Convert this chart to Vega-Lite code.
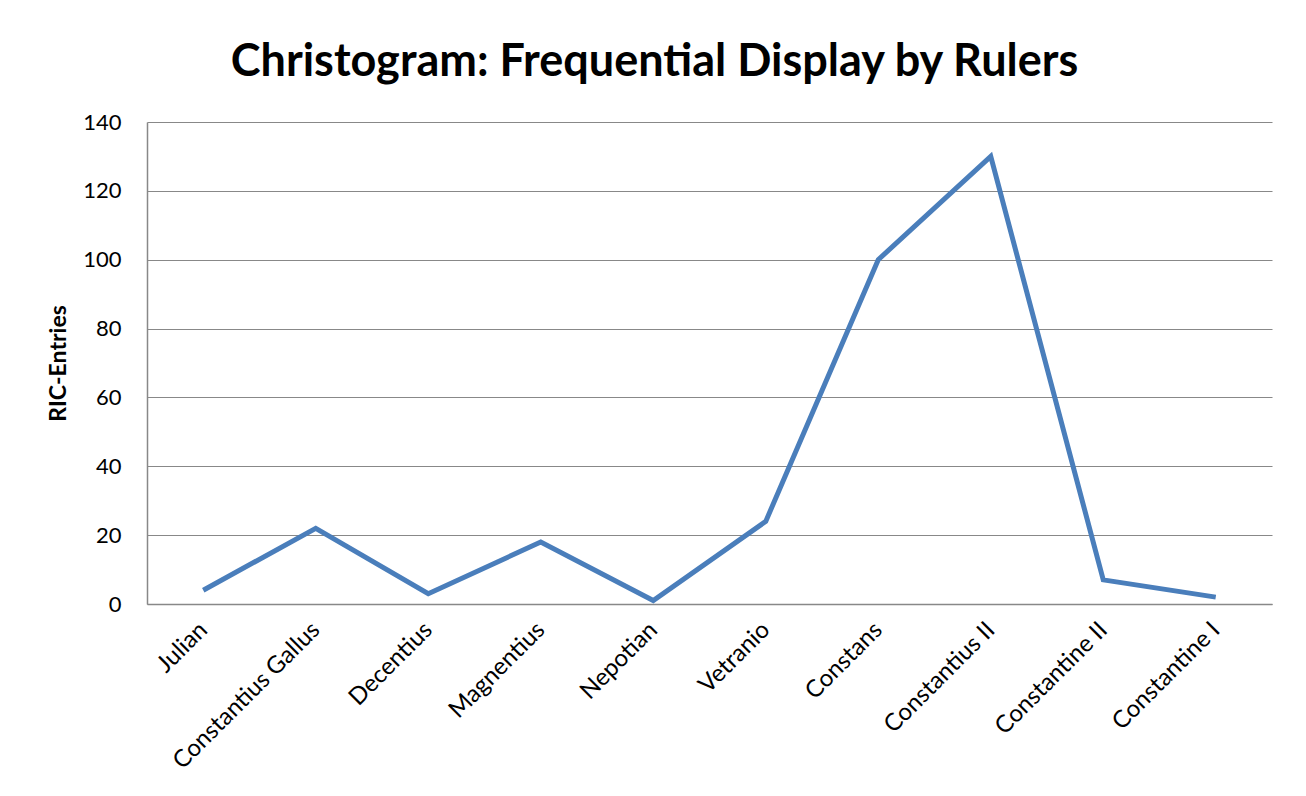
{
  "$schema": "https://vega.github.io/schema/vega-lite/v6.json",
  "autosize": {"type": "none"},
  "width": 1125,
  "height": 482,
  "padding": {"left": 147, "top": 122, "right": 34, "bottom": 192},
  "background": "white",
  "title": {
    "text": "Christogram: Frequential Display by Rulers",
    "font": "Lato",
    "fontSize": 45,
    "fontWeight": "bold",
    "color": "black",
    "anchor": "middle",
    "frame": "group",
    "dx": -55,
    "offset": 26
  },
  "config": {
    "view": {"stroke": null},
    "font": "Lato"
  },
  "data": {
    "values": [
      {"ruler": "Julian", "entries": 4},
      {"ruler": "Constantius Gallus", "entries": 22},
      {"ruler": "Decentius", "entries": 3},
      {"ruler": "Magnentius", "entries": 18},
      {"ruler": "Nepotian", "entries": 1},
      {"ruler": "Vetranio", "entries": 24},
      {"ruler": "Constans", "entries": 100},
      {"ruler": "Constantius II", "entries": 130},
      {"ruler": "Constantine II", "entries": 7},
      {"ruler": "Constantine I", "entries": 2}
    ]
  },
  "mark": {"type": "line", "color": "#4a7ebb", "strokeWidth": 5, "strokeJoin": "miter"},
  "encoding": {
    "x": {
      "field": "ruler",
      "type": "nominal",
      "sort": null,
      "scale": {"type": "point", "padding": 0.5},
      "axis": {
        "title": null,
        "labelAngle": -45,
        "labelAlign": "right",
        "labelBaseline": "middle",
        "labelFont": "Lato",
        "labelFontSize": 24,
        "labelColor": "black",
        "labelPadding": 22,
        "ticks": false,
        "domainColor": "#888888",
        "domainWidth": 1.5,
        "grid": false,
        "labelOverlap": false,
        "labelLimit": 400
      }
    },
    "y": {
      "field": "entries",
      "type": "quantitative",
      "scale": {"domain": [0, 140], "nice": false},
      "axis": {
        "title": "RIC-Entries",
        "titleFont": "Lato",
        "titleFontSize": 23,
        "titleFontWeight": "bold",
        "titleColor": "black",
        "titlePadding": 12,
        "values": [0, 20, 40, 60, 80, 100, 120, 140],
        "labelFont": "Lato",
        "labelFontSize": 22,
        "labelColor": "black",
        "labelPadding": 26,
        "ticks": false,
        "domainColor": "#888888",
        "domainWidth": 1.5,
        "gridColor": "#888888",
        "gridWidth": 1.2
      }
    }
  }
}
